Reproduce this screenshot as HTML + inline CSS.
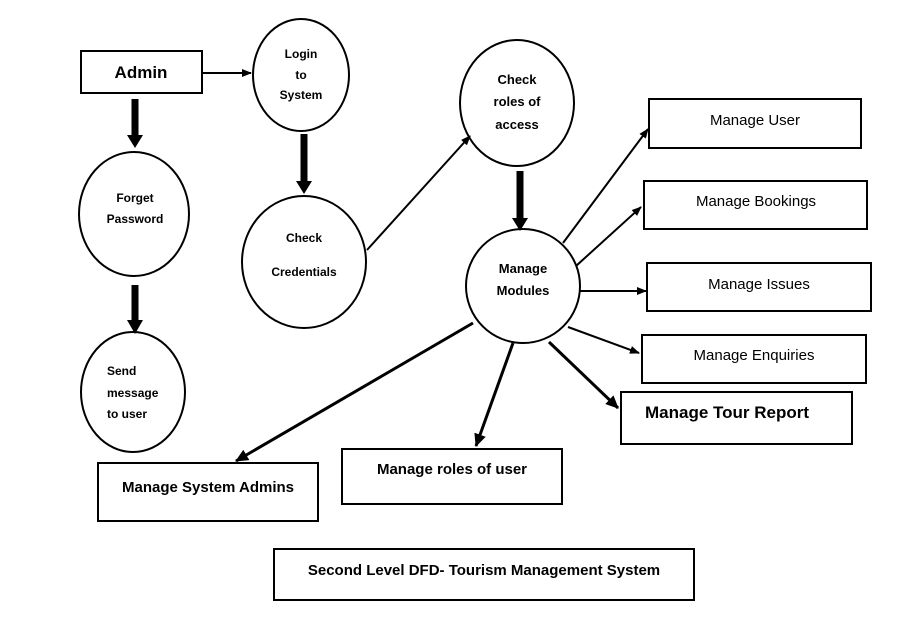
<!DOCTYPE html>
<html><head><meta charset="utf-8"><style>
html,body{margin:0;padding:0;background:#fff;}
svg{display:block;}
text{font-family:"Liberation Sans",sans-serif;fill:#000;}
.b{font-weight:bold;}
</style></head><body>
<svg width="905" height="628" viewBox="0 0 905 628" xmlns="http://www.w3.org/2000/svg">
<defs>
<marker id="a" markerWidth="10" markerHeight="10" refX="9" refY="5" orient="auto" markerUnits="userSpaceOnUse"><path d="M0,1 L10,5 L0,9 Z" fill="#000"/></marker>
<marker id="a2" markerWidth="14" markerHeight="14" refX="12" refY="7" orient="auto" markerUnits="userSpaceOnUse"><path d="M0,1 L13,7 L0,13 Z" fill="#000"/></marker>
</defs>
<g fill="none" stroke="#000" stroke-width="2">
<rect x="81" y="51" width="121" height="42"/>
<ellipse cx="301" cy="75" rx="48" ry="56"/>
<ellipse cx="134" cy="214" rx="55" ry="62"/>
<ellipse cx="133" cy="392" rx="52" ry="60"/>
<ellipse cx="304" cy="262" rx="62" ry="66"/>
<ellipse cx="517" cy="103" rx="57" ry="63"/>
<ellipse cx="523" cy="286" rx="57" ry="57"/>
<rect x="649" y="99" width="212" height="49"/>
<rect x="644" y="181" width="223" height="48"/>
<rect x="647" y="263" width="224" height="48"/>
<rect x="642" y="335" width="224" height="48"/>
<rect x="621" y="392" width="231" height="52"/>
<rect x="342" y="449" width="220" height="55"/>
<rect x="98" y="463" width="220" height="58"/>
<rect x="274" y="549" width="420" height="51"/>
</g>
<g stroke="#000" stroke-width="2" fill="none">
<line x1="202" y1="73" x2="251" y2="73" marker-end="url(#a)"/>
<line x1="367" y1="250" x2="470" y2="136" marker-end="url(#a)"/>
<line x1="563" y1="243" x2="648" y2="129" marker-end="url(#a)"/>
<line x1="576" y1="266" x2="641" y2="207" marker-end="url(#a)"/>
<line x1="580" y1="291" x2="646" y2="291" marker-end="url(#a)"/>
<line x1="568" y1="327" x2="639" y2="353" marker-end="url(#a)"/>
</g>
<g stroke="#000" stroke-width="3" fill="none">
<line x1="549" y1="342" x2="618" y2="408" marker-end="url(#a2)"/>
<line x1="513" y1="343" x2="476" y2="446" marker-end="url(#a2)"/>
<line x1="473" y1="323" x2="236" y2="461" marker-end="url(#a2)"/>
</g>
<g stroke="#000" stroke-width="7">
<line x1="135" y1="99" x2="135" y2="136"/>
<line x1="135" y1="285" x2="135" y2="322"/>
<line x1="304" y1="134" x2="304" y2="183"/>
<line x1="520" y1="171" x2="520" y2="220"/>
</g>
<g fill="#000">
<path d="M127,135 L143,135 L135,148 Z"/>
<path d="M127,320 L143,320 L135,334 Z"/>
<path d="M296,181 L312,181 L304,194 Z"/>
<path d="M512,218 L528,218 L520,231 Z"/>
</g>
<g class="b" text-anchor="middle">
<text x="141" y="78" font-size="17">Admin</text>
<text x="301" y="58" font-size="12">Login</text>
<text x="301" y="79" font-size="12">to</text>
<text x="301" y="99" font-size="12">System</text>
<text x="135" y="202" font-size="12">Forget</text>
<text x="135" y="223" font-size="12">Password</text>
<text x="304" y="242" font-size="12">Check</text>
<text x="304" y="276" font-size="12">Credentials</text>
<text x="517" y="84" font-size="13">Check</text>
<text x="517" y="106" font-size="13">roles of</text>
<text x="517" y="129" font-size="13">access</text>
<text x="523" y="273" font-size="13">Manage</text>
<text x="523" y="295" font-size="13">Modules</text>
<text x="727" y="418" font-size="17">Manage Tour Report</text>
<text x="452" y="474" font-size="15">Manage roles of user</text>
<text x="208" y="492" font-size="15">Manage System Admins</text>
<text x="484" y="575" font-size="15">Second Level DFD- Tourism Management System</text>
</g>
<g class="b" font-size="12">
<text x="107" y="375">Send</text>
<text x="107" y="397">message</text>
<text x="107" y="418">to user</text>
</g>
<g text-anchor="middle" font-size="15">
<text x="755" y="125">Manage User</text>
<text x="756" y="206">Manage Bookings</text>
<text x="759" y="289">Manage Issues</text>
<text x="754" y="360">Manage Enquiries</text>
</g>
</svg>
</body></html>
